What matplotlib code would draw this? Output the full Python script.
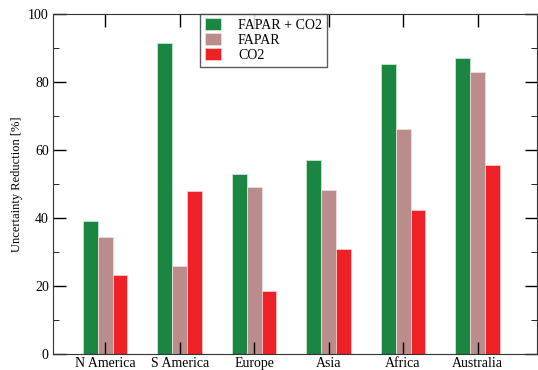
import numpy as np
from matplotlib import pyplot as plt
from matplotlib.ticker import MultipleLocator

regions = ['N America', 'S America', 'Europe', 'Asia', 'Africa', 'Australia']
fapar_co2 = [39.1, 91.2, 52.8, 57.1, 85.2, 86.8]
fapar = [34.4, 25.8, 49.1, 48.2, 66.0, 82.8]
co2 = [23.2, 47.8, 18.5, 31.0, 42.4, 55.5]

plt.rcParams['font.family'] = 'Liberation Serif'
plt.rcParams['font.size'] = 10

fig = plt.figure(figsize=(5.38, 3.70), dpi=100)
ax = fig.add_axes([0.0985, 0.043, 0.9, 0.9205])

x = np.arange(1, len(regions) + 1)
w = 0.2
ax.bar(x - w, fapar_co2, w, color='#1a8642', edgecolor='#c8e6d0', linewidth=0.6, label='FAPAR + CO2')
ax.bar(x, fapar, w, color='#bb8c8c', edgecolor='#f0dcdc', linewidth=0.6, label='FAPAR')
ax.bar(x + w, co2, w, color='#ee2226', edgecolor='#f8c8c8', linewidth=0.6, label='CO2')

ax.set_xlim(0.3, 6.8)
ax.set_ylim(0, 100)
ax.set_xticks(x)
ax.set_xticklabels(regions)
ax.yaxis.set_major_locator(MultipleLocator(20))
ax.yaxis.set_minor_locator(MultipleLocator(10))
ax.tick_params(direction='in', top=True, right=True, length=9, width=1, pad=3)
ax.tick_params(axis='x', pad=2)
ax.tick_params(which='minor', direction='in', right=True, length=4)
ax.set_ylabel('Uncertainty Reduction [%]', fontsize=9)
for s in ax.spines.values():
    s.set_color('#333333')

leg = ax.legend(loc='upper left', bbox_to_anchor=(0.303, 1.0), borderaxespad=0, frameon=True,
                fancybox=False, handlelength=1.2, handleheight=0.9, borderpad=0.35,
                labelspacing=0.1, handletextpad=1.2, fontsize=10)
leg.get_frame().set_edgecolor('#333333')
leg.get_frame().set_linewidth(1.0)

fig.savefig('out.png', dpi=100)
